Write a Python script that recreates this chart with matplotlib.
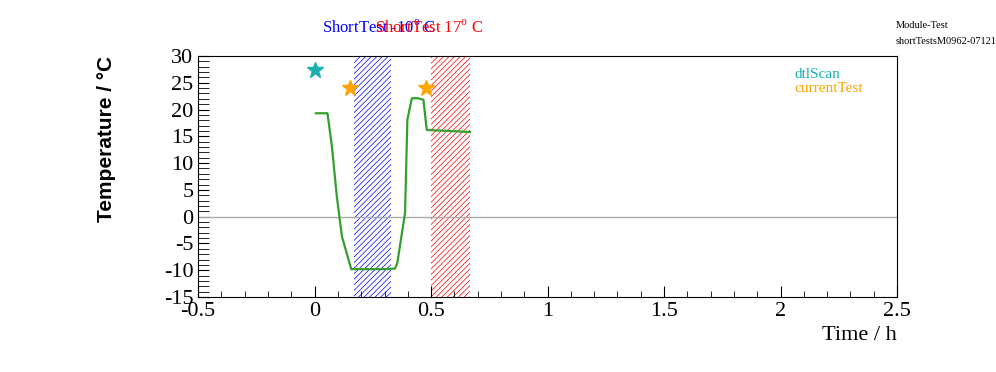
import numpy as np
import matplotlib.pyplot as plt
from matplotlib.ticker import MultipleLocator

# temperature curve (time in h, temperature in deg C)
time_h = [0.005, 0.055, 0.074, 0.095, 0.117, 0.157, 0.20, 0.25, 0.30, 0.345,
          0.355, 0.388, 0.398, 0.417, 0.445, 0.467, 0.481, 0.52, 0.58, 0.62, 0.667]
temp_c = [19.3, 19.3, 13.1, 3.8, -3.7, -9.8, -9.8, -9.8, -9.8, -9.7,
          -8.6, 0.7, 18.1, 22.1, 22.1, 21.8, 16.2, 16.1, 16.0, 15.9, 15.8]

# test markers
dtl_t = [0.0]
dtl_y = [27.3]
cur_t = [0.152, 0.48]
cur_y = [24.0, 24.0]

# test periods
bands = [(0.17, 0.329, 'blue', 'ShortTest -10$^{\\rm o}$ C'),
         (0.501, 0.667, 'red', 'ShortTest 17$^{\\rm o}$ C')]

plt.rcParams['font.family'] = ['Liberation Serif', 'DejaVu Serif']
plt.rcParams['mathtext.fontset'] = 'custom'
plt.rcParams['mathtext.rm'] = 'Liberation Serif'
plt.rcParams['axes.unicode_minus'] = False
plt.rcParams['hatch.linewidth'] = 0.5

fig = plt.figure(figsize=(9.96, 3.72), dpi=100)
ax = fig.add_axes([0.199, 0.2016, 0.7016, 0.648])

for t0, t1, col, lab in bands:
    ax.axvspan(t0, t1, facecolor='none', edgecolor=col, hatch='//////', linewidth=0)

ax.axhline(0, color='#aaaaaa', linewidth=1)
ax.plot(time_h, temp_c, color='#33a02c', linewidth=1.6)

ax.plot(dtl_t, dtl_y, marker='*', markersize=12, color='#1aaeae', linestyle='none')
ax.plot(cur_t, cur_y, marker='*', markersize=12, color='#ffa500', linestyle='none')

ax.set_xlim(-0.5, 2.5)
ax.set_ylim(-15, 30)
ax.xaxis.set_major_locator(MultipleLocator(0.5))
ax.xaxis.set_minor_locator(MultipleLocator(0.1))
ax.yaxis.set_major_locator(MultipleLocator(5))
ax.yaxis.set_minor_locator(MultipleLocator(1))
ax.tick_params(which='both', direction='in', top=False, right=False, labelsize=16)
ax.tick_params(axis='x', which='major', length=8)
ax.tick_params(axis='x', which='minor', length=4)
ax.tick_params(axis='y', which='both', length=8)
ax.xaxis.set_major_formatter(plt.FuncFormatter(lambda v, p: f'{v:g}'))

ax.set_xlabel('Time / h', fontsize=16, loc='right')
ax.set_ylabel('Temperature / °C', fontsize=15, fontweight='bold',
              family=['Liberation Sans', 'DejaVu Sans'], labelpad=34, loc='top')

# legend texts
ax.text(0.853, 0.91, 'dtlScan', transform=ax.transAxes, color='#1aaeae', fontsize=11)
ax.text(0.853, 0.85, 'currentTest', transform=ax.transAxes, color='#ffa500', fontsize=11)

# band labels above the frame
fig.text(379 / 996, 1 - 28 / 372, bands[0][3], color='blue', fontsize=12, ha='center', va='center')
fig.text(429 / 996, 1 - 28 / 372, bands[1][3], color='red', fontsize=12, ha='center', va='center')

fig.text(896 / 996, 1 - 26 / 372, 'Module-Test', fontsize=7.5, va='center')
fig.text(896 / 996, 1 - 42 / 372, 'shortTestsM0962-071218', fontsize=7.5, va='center')

fig.savefig('out.png', dpi=100)
